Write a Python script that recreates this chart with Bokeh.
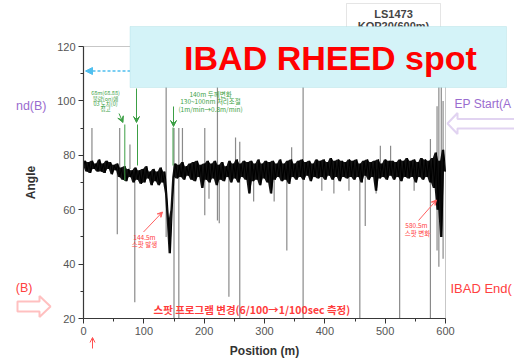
from bokeh.plotting import figure
from bokeh.models import (Label, BoxAnnotation, Arrow, NormalHead, VeeHead, OpenHead,
                          PolyAnnotation, Range1d, FixedTicker, ColumnDataSource)
from bokeh.embed import file_html
from bokeh.resources import INLINE

# ---------------- data ----------------
positions = list(range(0, 601, 3))
angle = [
    76, 78, 74, 77.5, 73.5, 78, 75, 77, 74, 78.5,
    74, 77, 73.5, 78, 75, 77.5, 73, 76.5, 74.5, 77,
    72, 75.5, 71, 76, 70.5, 75, 72, 74.5, 70, 75.5,
    71, 74.5, 69.5, 75, 70, 76, 71.5, 74, 69, 75,
    70.5, 74, 69, 75.5, 70, 74, 66, 56, 44, 60,
    72, 77, 71.5, 76.5, 72, 77.5, 71, 76, 72.5, 77,
    71, 77.5, 70.5, 78, 72, 76.5, 68, 77, 71, 78,
    70, 77, 71.5, 78, 69, 76.5, 71, 77.5, 70.5, 76,
    72, 78, 70, 77, 71.5, 78.5, 70, 77, 72, 78,
    71, 77.5, 66, 78, 70.5, 77, 71, 78.5, 69, 77,
    71.5, 78, 70, 77.5, 66, 78, 71, 77, 72, 78.5,
    70.5, 77, 71, 78, 69.5, 78.5, 72, 77, 71, 78,
    72, 78.5, 71, 77.5, 72.5, 78, 70.5, 77, 72, 78.5,
    71.5, 78, 72, 78.5, 71, 77.5, 72.5, 79, 71, 78,
    72, 78.5, 70.5, 78, 72, 77.5, 71.5, 78.5, 72, 78,
    71, 78.5, 72, 77, 70, 78, 72.5, 78.5, 71, 77.5,
    72, 78, 67, 78.5, 71.5, 77, 72, 78.5, 71, 78,
    72.5, 78, 71, 77.5, 72, 78.5, 70.5, 78, 72, 79,
    71.5, 78, 72, 78.5, 70, 77.5, 72, 79, 71, 78.5,
    72, 78, 70, 79, 68, 81, 60, 78, 50, 82,
    74,
]

spike_pos = [14, 56, 60, 77, 85, 137, 150, 158, 164, 201, 208, 222, 225, 241, 252, 259,
             282, 316, 337, 345, 364, 395, 415, 440, 458, 467, 485, 492, 509, 524, 548,
             575, 586, 589, 593, 596]
spike_low = [76, 51, 75, 75, 26, 50, 20, 20, 72, 58, 64, 56, 55, 28, 74, 20,
             63, 63, 45, 75, 20, 67, 66, 67, 20, 54, 66, 75, 75, 20, 67,
             20, 45, 39, 50, 42]
spike_high = [90, 75, 90, 84, 74, 120, 90, 90, 90, 90, 75, 120, 74, 74, 86.5, 85,
              75, 75, 75, 83, 120, 75, 75, 75, 76, 75, 75, 83.5, 83.5, 76, 75,
              86, 98, 120, 110, 100]

x_ticks = [0, 100, 200, 300, 400, 500, 600]
x_minor = [50, 150, 250, 350, 450, 550]
y_ticks = [20, 40, 60, 80, 100, 120]
y_minor = [30, 50, 70, 90, 110]

# ---------------- layout helpers (annotation placement) ----------------
W, H = 514, 361
L, R, T, B = 83, 445, 46, 318          # plot-area edges in pixels
X0, X1, Y0, Y1 = 0, 600, 20, 120       # axis extents


def dx(px):
    return X0 + (px - L) * (X1 - X0) / (R - L)


def dy(py):
    return Y0 + (B - py) * (Y1 - Y0) / (B - T)


p = figure(width=W, height=H, x_range=Range1d(dx(0), dx(W)), y_range=Range1d(dy(H), dy(0)),
           output_backend="svg", toolbar_location=None,
           min_border_left=0, min_border_right=0, min_border_top=0, min_border_bottom=0)
p.background_fill_color = "white"
p.border_fill_color = "white"
p.outline_line_color = None
p.grid.visible = False

for ax in (p.xaxis[0], p.yaxis[0]):
    ax.axis_line_color = "#333333"
    ax.axis_line_width = 1.2
    ax.major_tick_line_color = "#333333"
    ax.minor_tick_line_color = "#333333"
    ax.major_tick_out = 5
    ax.major_tick_in = 0
    ax.minor_tick_out = 3
    ax.minor_tick_in = 0
    ax.major_label_standoff = 3
    ax.major_label_text_font = "Liberation Sans"
    ax.major_label_text_font_size = "11px"
    ax.major_label_text_color = "#555555"
    ax.axis_label_text_font = "Liberation Sans"
    ax.axis_label_text_font_style = "bold"
    ax.axis_label_text_font_size = "12px"
    ax.axis_label_text_color = "#333333"

p.xaxis.ticker = FixedTicker(ticks=x_ticks, minor_ticks=x_minor)
p.yaxis.ticker = FixedTicker(ticks=y_ticks, minor_ticks=y_minor)
p.xaxis.fixed_location = Y0
p.yaxis.fixed_location = X0
p.xaxis.bounds = (X0, X1)
p.yaxis.bounds = (Y0, Y1)
p.xaxis.axis_label = "Position (m)"
p.yaxis.axis_label = "Angle"
p.xaxis.axis_label_standoff = 6
p.yaxis.axis_label_standoff = 16

# spikes
spk = ColumnDataSource(dict(x=spike_pos, lo=spike_low, hi=spike_high))
p.segment(x0="x", y0="lo", x1="x", y1="hi", source=spk, line_color="#8a8a8a", line_width=1.2)

# main trace: dense noise band (filled between neighbouring samples) + the trace itself
n = len(angle)
band_lo = [min(angle[i], angle[min(i + 1, n - 1)]) for i in range(n)]
band_hi = [max(angle[i], angle[min(i + 1, n - 1)]) for i in range(n)]
src = ColumnDataSource(dict(x=positions, y=angle, lo=band_lo, hi=band_hi))
p.varea(x="x", y1="lo", y2="hi", source=src, fill_color="black", fill_alpha=0.92)
p.line("x", "y", source=src, line_color="black", line_width=1.1)

# plot frame (top / right edges)
p.add_layout(BoxAnnotation(left=X0, right=X1, bottom=Y0, top=Y1, fill_alpha=0,
                           line_color="#444444", line_width=1))

# ---------------- annotations ----------------
GREEN = "#3c9f45"
RED = "#ff3b3b"
PURPLE = "#9a6ccf"

# green markers
for (x0, y0, x1, y1) in [(124.3, 124, 124.3, 180), (137, 124, 137, 165), (172.5, 127, 172.5, 165)]:
    p.add_layout(Arrow(end=None, x_start=dx(x0), y_start=dy(y0), x_end=dx(x1), y_end=dy(y1),
                       line_color=GREEN, line_width=1))
for (x0, y0, x1, y1) in [(118.5, 113, 122.5, 122), (136, 88, 136, 122), (173, 106, 173, 126)]:
    p.add_layout(Arrow(end=VeeHead(size=6, line_color=GREEN, fill_color=GREEN),
                       x_start=dx(x0), y_start=dy(y0), x_end=dx(x1), y_end=dy(y1),
                       line_color=GREEN, line_width=1))

for txt, (cx, cy) in zip(["68m(68.88)", "불량(on)에", "03 도치(0)", "접고"],
                         [(105, 92.5), (105, 98), (105, 103), (105, 108)]):
    p.add_layout(Label(x=dx(cx), y=dy(cy), text=txt, text_align="center", text_baseline="middle",
                       text_font="Noto Sans CJK KR", text_font_size="5.5px", text_color=GREEN))
for txt, (cx, cy) in zip(["140m 두께변화", "130~100nm 처리조절", "(1m/min→0.8m/min)"],
                         [(210, 93.3), (210, 100.5), (210, 108)]):
    p.add_layout(Label(x=dx(cx), y=dy(cy), text=txt, text_align="center", text_baseline="middle",
                       text_font="Noto Sans CJK KR", text_font_size="6.5px", text_color=GREEN))

# red point annotations
for (x0, y0, x1, y1) in [(143, 231.5, 162, 211.5), (418, 220, 436, 199.5)]:
    p.add_layout(Arrow(end=VeeHead(size=5, line_color="#ff6060", fill_color="#ff6060"),
                       x_start=dx(x0), y_start=dy(y0), x_end=dx(x1), y_end=dy(y1),
                       line_color="#ff6060", line_width=1))
for txt, (cx, cy) in zip(["144.5m", "스팟 발생", "580.5m", "스팟 변화"],
                         [(144, 236.5), (144, 243.5), (416, 224), (417, 232.5)]):
    p.add_layout(Label(x=dx(cx), y=dy(cy), text=txt, text_align="center", text_baseline="middle",
                       text_font="Noto Sans CJK KR", text_font_size="6.5px", text_color="#ff4040"))

p.add_layout(Label(x=dx(153), y=dy(309), text="스팟 프로그램 변경(6/100→1/100sec 측정)",
                   text_align="left", text_baseline="middle", text_font="Noto Sans CJK KR",
                   text_font_size="10.5px", text_font_style="bold", text_color=RED))

# red tiny up arrow under the axis
p.add_layout(Arrow(end=OpenHead(size=5, line_color="#ff5050", line_width=1),
                   x_start=dx(92), y_start=dy(348), x_end=dx(92), y_end=dy(337),
                   line_color="#ff5050", line_width=1))

# side labels (only the parts visible in the window)
p.add_layout(Label(x=dx(46), y=dy(105), text="nd(B)", text_align="right", text_baseline="middle",
                   text_font="Liberation Sans", text_font_size="12.5px", text_color=PURPLE))
p.add_layout(Label(x=dx(454), y=dy(103), text="EP Start(A", text_align="left", text_baseline="middle",
                   text_font="Liberation Sans", text_font_size="12px", text_color=PURPLE))
p.add_layout(Label(x=dx(32), y=dy(287), text="(B)", text_align="right", text_baseline="middle",
                   text_font="Liberation Sans", text_font_size="12.5px", text_color="#ff4040"))
p.add_layout(Label(x=dx(450), y=dy(288), text="IBAD End(", text_align="left", text_baseline="middle",
                   text_font="Liberation Sans", text_font_size="13px", text_color="#ff4040"))

# hollow block arrows
pa_x = [447, 457, 457, 530, 530, 457, 457]
pa_y = [123, 112.5, 118.5, 118.5, 128, 128, 133.5]
p.add_layout(PolyAnnotation(xs=[dx(v) for v in pa_x], ys=[dy(v) for v in pa_y],
                            fill_color="white", fill_alpha=1, line_color=PURPLE, line_width=2))
ra_x = [17, 39, 39, 50, 39, 39, 17]
ra_y = [301, 301, 295.5, 306, 316.5, 311, 311]
p.add_layout(PolyAnnotation(xs=[dx(v) for v in ra_x], ys=[dy(v) for v in ra_y],
                            fill_color="white", fill_alpha=1, line_color="#ff3030", line_width=2))

# dashed cyan arrow
p.add_layout(Arrow(end=NormalHead(size=7, line_color="#4fbfef", fill_color="#4fbfef"),
                   x_start=dx(140), y_start=dy(70.5), x_end=dx(85), y_end=dy(70.5),
                   line_color="#4fbfef", line_width=1.5, line_dash="3 2"))

# LS1473 box
p.add_layout(BoxAnnotation(left=dx(346), right=dx(440), top=dy(3), bottom=dy(40),
                           fill_color="white", fill_alpha=1, line_color="#aaaaaa", line_width=1))
p.add_layout(Label(x=dx(393), y=dy(13), text="LS1473", text_align="center", text_baseline="middle",
                   text_font="Liberation Sans", text_font_size="11px", text_font_style="bold",
                   text_color="#444444"))
p.add_layout(Label(x=dx(393), y=dy(25), text="KOP20(600m)", text_align="center", text_baseline="middle",
                   text_font="Liberation Sans", text_font_size="11px", text_font_style="bold",
                   text_color="#444444"))

# big title box
p.add_layout(BoxAnnotation(left=dx(129.5), right=dx(506), top=dy(26), bottom=dy(87),
                           fill_color="#d4f3f8", fill_alpha=1, line_color="#9dd3dc", line_width=1))
p.add_layout(Label(x=dx(330), y=dy(57), text="IBAD RHEED spot", text_align="center",
                   text_baseline="middle", text_font="Liberation Sans", text_font_size="34px",
                   text_font_style="bold", text_color="#ff0000"))

open("out.html", "w").write(file_html(p, INLINE))
